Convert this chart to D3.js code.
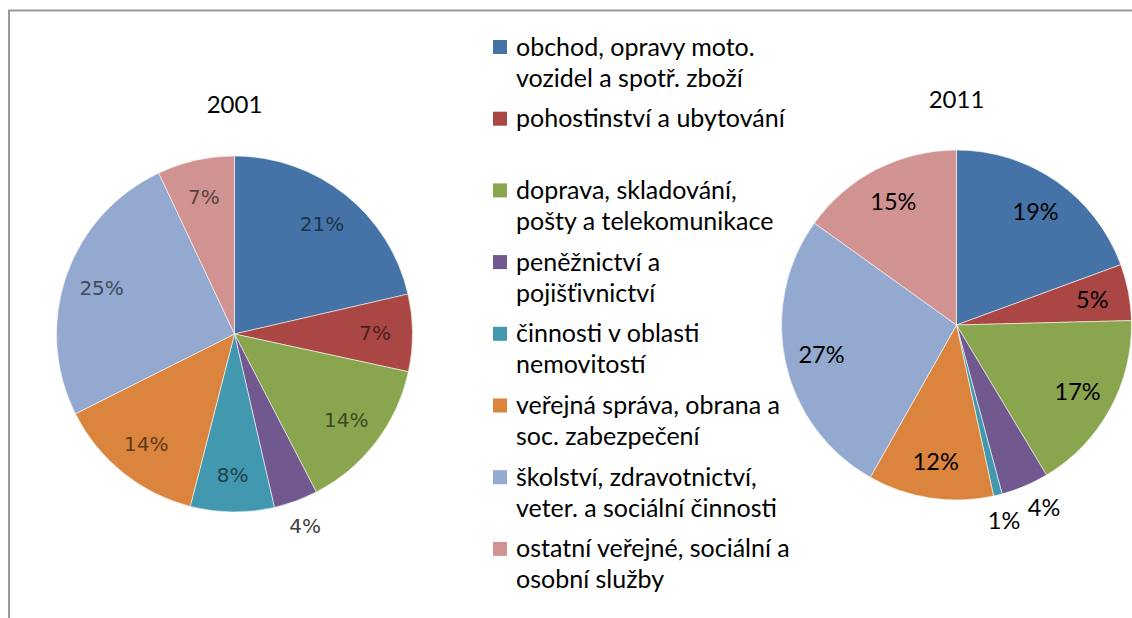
<!DOCTYPE html>
<html>
<head>
<meta charset="utf-8">
<script src="https://cdn.jsdelivr.net/npm/d3@7"></script>
<style>
  body { margin: 0; background: #fff; }
  svg { display: block; }
</style>
</head>
<body>
<svg id="chart" width="1132" height="618"></svg>
<script>
// data
const categories = [
  'obchod, opravy moto. vozidel a spotř. zboží',
  'pohostinství a ubytování',
  'doprava, skladování, pošty a telekomunikace',
  'peněžnictví a pojišťivnictví',
  'činnosti v oblasti nemovitostí',
  'veřejná správa, obrana a soc. zabezpečení',
  'školství, zdravotnictví, veter. a sociální činnosti',
  'ostatní veřejné, sociální a osobní služby'
];
// legend text as it wraps in the picture
const legendLines = [
  ['obchod, opravy moto.', 'vozidel a spotř. zboží'],
  ['pohostinství a ubytování'],
  ['doprava, skladování,', 'pošty a telekomunikace'],
  ['peněžnictví a', 'pojišťivnictví'],
  ['činnosti v oblasti', 'nemovitostí'],
  ['veřejná správa, obrana a', 'soc. zabezpečení'],
  ['školství, zdravotnictví,', 'veter. a sociální činnosti'],
  ['ostatní veřejné, sociální a', 'osobní služby']
];
const years = ['2001', '2011'];
const values2001 = [21.4, 7.0, 14.0, 4.0, 7.6, 13.6, 25.4, 7.0];
const values2011 = [19.4, 5.2, 16.8, 4.4, 0.8, 11.6, 26.7, 15.1];
const colors = ['#4572A7', '#AA4643', '#89A54E', '#71588F', '#4198AF', '#DB843D', '#93A9CF', '#D19392'];

const svg = d3.select('#chart');
const font = 'Lato, "Open Sans", sans-serif';

// frame (only top and left edges show)
svg.append('path')
  .attr('d', 'M9,618 V10.5 H1132')
  .attr('fill', 'none')
  .attr('stroke', '#9a9a9a')
  .attr('stroke-width', 2);

const color = d3.scaleOrdinal().domain(categories).range(colors);

const pie = d3.pie()
  .sort(null)
  .value(d => d.value);

const charts = [
  { year: years[0], values: values2001, cx: 234.5, cy: 334, r: 178, titleY: 113,
    labelFont: '"DejaVu Sans", Verdana, sans-serif', labelSize: 20, dark: true },
  { year: years[1], values: values2011, cx: 956.5, cy: 325, r: 175, titleY: 108,
    labelFont: font, labelSize: 23.5, dark: false }
];

const MIN_GAP = 40; // min horizontal distance between outside labels

charts.forEach(c => {
  const data = categories.map((cat, i) => ({ cat, value: c.values[i] }));
  const arcs = pie(data);
  const g = svg.append('g').attr('transform', `translate(${c.cx},${c.cy})`);

  const arc = d3.arc().innerRadius(0).outerRadius(c.r);
  const inLabel = d3.arc().innerRadius(c.r * 0.79).outerRadius(c.r * 0.79);
  const outLabel = d3.arc().innerRadius(c.r * 1.15).outerRadius(c.r * 1.15);

  g.selectAll('path.slice')
    .data(arcs)
    .join('path')
    .attr('class', 'slice')
    .attr('d', arc)
    .attr('fill', d => color(d.data.cat))
    .attr('stroke', '#fff')
    .attr('stroke-width', 0.7)
    .attr('stroke-opacity', 0.8);

  // label positions, small slices go outside
  arcs.forEach(d => {
    d.outside = d.data.value < 5;
    d.pos = d.outside ? outLabel.centroid(d) : inLabel.centroid(d);
  });
  // push apart outside labels that sit too close (bottom of pie)
  const outs = arcs.filter(d => d.outside);
  for (let i = outs.length - 2; i >= 0; i--) {
    const a = outs[i], b = outs[i + 1];
    if (a.pos[0] - b.pos[0] < MIN_GAP && Math.abs(a.pos[1] - b.pos[1]) < 30) {
      a.pos = [b.pos[0] + MIN_GAP, a.pos[1] - 3];
    }
  }

  g.selectAll('text.pct')
    .data(arcs)
    .join('text')
    .attr('class', 'pct')
    .attr('transform', d => `translate(${d.pos})`)
    .attr('text-anchor', 'middle')
    .attr('dy', '0.36em')
    .style('font-family', c.labelFont)
    .style('font-size', c.labelSize + 'px')
    .attr('fill', d => {
      if (!c.dark) return '#000';
      return d.outside ? '#404040' : d3.color(color(d.data.cat)).darker(2.3);
    })
    .text(d => Math.round(d.data.value) + '%');

  svg.append('text')
    .attr('x', c.cx)
    .attr('y', c.titleY)
    .attr('text-anchor', 'middle')
    .style('font-family', font)
    .style('font-size', '24px')
    .attr('fill', '#000')
    .text(c.year);
});

// legend
const legendY = d3.scaleLinear().domain([0, 1]).range([47, 118.7]);
const legend = svg.append('g');
legendLines.forEach((lines, i) => {
  const y0 = legendY(i);
  legend.append('rect')
    .attr('x', 493)
    .attr('y', y0 - 7)
    .attr('width', 14)
    .attr('height', 14)
    .attr('fill', colors[i]);
  lines.forEach((t, j) => {
    legend.append('text')
      .attr('x', 516)
      .attr('y', y0 + j * 31 + 8.5)
      .style('font-family', font)
      .style('font-size', '25px')
      .attr('fill', '#000')
      .text(t);
  });
});
</script>
</body>
</html>
